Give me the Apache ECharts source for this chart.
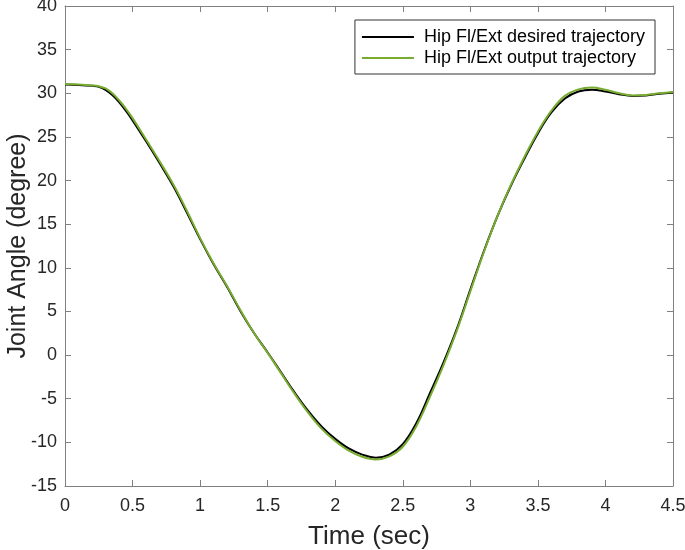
<!DOCTYPE html>
<html>
<head>
<meta charset="utf-8">
<script src="https://cdn.jsdelivr.net/npm/echarts@6/dist/echarts.min.js"></script>
<style>
  html, body { margin: 0; padding: 0; background: #fff; }
  #chart { width: 685px; height: 550px; }
</style>
</head>
<body>
<div id="chart"></div>
<script>
// time samples (sec)
const times = [0, 0.1, 0.2, 0.25, 0.3, 0.35, 0.4, 0.45, 0.5, 0.6, 0.7, 0.8, 0.9, 1.0,
  1.1, 1.2, 1.3, 1.4, 1.5, 1.6, 1.7, 1.8, 1.9, 2.0, 2.1, 2.2, 2.3, 2.4, 2.5,
  2.6, 2.7, 2.8, 2.9, 3.0, 3.1, 3.2, 3.3, 3.4, 3.5, 3.6, 3.7, 3.8, 3.9, 4.0,
  4.1, 4.2, 4.3, 4.4, 4.5]

// hip flexion/extension angle (degree)
const desired = [31.0, 30.95, 30.85, 30.75, 30.4, 29.8, 29.0, 28.0, 26.9, 24.5, 22.0, 19.4, 16.4, 13.3,
  10.4, 7.8, 5.0, 2.5, 0.3, -2.0, -4.3, -6.4, -8.2, -9.6, -10.7, -11.4, -11.75, -11.4, -10.2,
  -7.8, -4.4, -0.9, 3.0, 7.5, 11.9, 15.9, 19.4, 22.5, 25.4, 27.8, 29.4, 30.2, 30.4, 30.2,
  29.9, 29.7, 29.75, 29.95, 30.1]
const output = [31.05, 31.0, 30.9, 30.8, 30.55, 30.0, 29.2, 28.25, 27.15, 24.7, 22.2, 19.6, 16.6, 13.4,
  10.5, 7.9, 5.1, 2.5, 0.25, -2.1, -4.45, -6.6, -8.45, -9.85, -10.95, -11.65, -11.95, -11.6, -10.5,
  -8.15, -4.8, -1.2, 2.8, 7.3, 11.8, 15.9, 19.5, 22.7, 25.6, 28.0, 29.7, 30.45, 30.65, 30.4,
  30.0, 29.75, 29.8, 30.0, 30.15]

const names = ['Hip Fl/Ext desired trajectory', 'Hip Fl/Ext output trajectory']

function pairs(ys) {
  return times.map((t, i) => [t, ys[i]])
}

const font = 'Liberation Sans, Arial, sans-serif'
const axisGray = '#808080'
const textDark = '#262626'

const option = {
  animation: false,
  grid: { left: 65, right: 12, top: 6, bottom: 64, outerBoundsMode: 'none', containLabel: false },
  legend: {
    data: names,
    orient: 'vertical',
    right: 30,
    top: 20,
    itemWidth: 52,
    itemHeight: 2,
    itemGap: 3,
    padding: [8, 10, 7, 6],
    borderColor: '#333',
    borderWidth: 1,
    backgroundColor: '#fff',
    textStyle: { fontFamily: font, fontSize: 18, lineHeight: 18, color: '#000', padding: [0, 0, 0, 5] }
  },
  xAxis: [{
    type: 'value',
    min: 0, max: 4.5, interval: 0.5,
    name: 'Time (sec)',
    nameLocation: 'middle',
    nameGap: 38,
    nameMoveOverlap: false,
    nameTextStyle: { fontFamily: font, fontSize: 26, color: textDark },
    axisLine: { onZero: false, lineStyle: { color: axisGray } },
    axisTick: { inside: true, length: 6, lineStyle: { color: axisGray } },
    axisLabel: { fontFamily: font, fontSize: 18, color: textDark, margin: 11,
      formatter: v => String(v) },
    splitLine: { show: false }
  }, {
    type: 'value', position: 'top',
    min: 0, max: 4.5, interval: 0.5,
    axisLine: { show: true, onZero: false, lineStyle: { color: axisGray } },
    axisTick: { inside: true, length: 6, lineStyle: { color: axisGray } },
    axisLabel: { show: false },
    splitLine: { show: false }
  }],
  yAxis: [{
    type: 'value',
    min: -15, max: 40, interval: 5,
    name: 'Joint Angle (degree)',
    nameLocation: 'middle',
    nameGap: 34,
    nameMoveOverlap: false,
    nameTextStyle: { fontFamily: font, fontSize: 25, color: textDark },
    axisLine: { show: true, onZero: false, lineStyle: { color: axisGray } },
    axisTick: { show: true, inside: true, length: 6, lineStyle: { color: axisGray } },
    axisLabel: { fontFamily: font, fontSize: 18, color: textDark, margin: 8 },
    splitLine: { show: false }
  }, {
    type: 'value', position: 'right',
    min: -15, max: 40, interval: 5,
    axisLine: { show: true, onZero: false, lineStyle: { color: axisGray } },
    axisTick: { show: true, inside: true, length: 6, lineStyle: { color: axisGray } },
    axisLabel: { show: false },
    splitLine: { show: false }
  }],
  series: [{
    name: names[0],
    type: 'line',
    data: pairs(desired),
    smooth: 0.4,
    symbol: 'none',
    lineStyle: { color: '#000', width: 2 },
    itemStyle: { color: '#000' }
  }, {
    name: names[1],
    type: 'line',
    data: pairs(output),
    smooth: 0.4,
    symbol: 'none',
    lineStyle: { color: '#77AC30', width: 2 },
    itemStyle: { color: '#77AC30' }
  }]
}

let myChart = echarts.init(document.getElementById('chart'))
myChart.setOption(option)
</script>
</body>
</html>
